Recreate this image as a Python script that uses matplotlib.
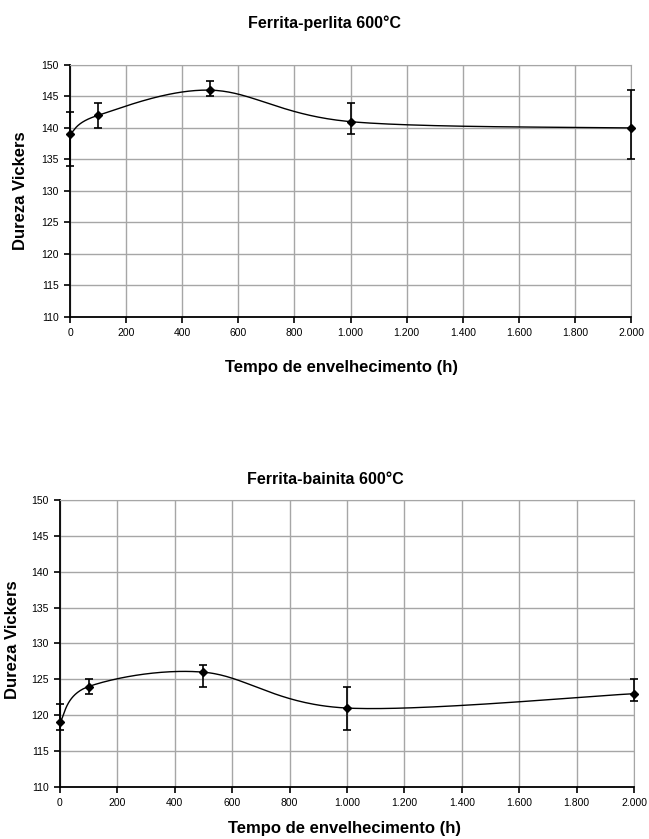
import matplotlib.pyplot as plt
import numpy as np
from matplotlib.ticker import FuncFormatter

plt.rcParams['font.family'] = ['Liberation Sans', 'DejaVu Sans']

# dados
tempo = [0, 100, 500, 1000, 2000]

perlita_hv = [139, 142, 146, 141, 140]
perlita_err_lo = [5, 2, 1, 2, 5]
perlita_err_hi = [3.5, 2, 1.5, 3, 6]

bainita_hv = [119, 124, 126, 121, 123]
bainita_err_lo = [1, 1, 2, 3, 1]
bainita_err_hi = [2.5, 1, 1, 3, 2]

yticks = np.arange(110, 151, 5)
xticks = np.arange(0, 2001, 200)


def smooth(ax, xs, ys, npts=60):
    # curva suavizada tipo Excel (Bezier com tangentes Catmull-Rom), em coordenadas de tela
    pts = ax.transData.transform(np.column_stack([xs, ys]))
    n = len(pts)
    out = []
    for i in range(n - 1):
        p0 = pts[max(i - 1, 0)]
        p1 = pts[i]
        p2 = pts[i + 1]
        p3 = pts[min(i + 2, n - 1)]
        c1 = p1 + (p2 - p0) / 6.0
        c2 = p2 - (p3 - p1) / 6.0
        t = np.linspace(0, 1, npts)[:, None]
        seg = ((1 - t) ** 3) * p1 + 3 * ((1 - t) ** 2) * t * c1 + 3 * (1 - t) * t ** 2 * c2 + t ** 3 * p2
        out.append(seg)
    out = np.vstack(out)
    return ax.transData.inverted().transform(out)


def fmt(v, pos):
    return "{:,.0f}".format(v).replace(",", ".")


def panel(ax, hv, lo, hi, ylab_pos, xlab_pos):
    ax.set_xlim(0, 2000)
    ax.set_ylim(110, 150)
    ax.set_xticks(xticks)
    ax.set_yticks(yticks)
    ax.xaxis.set_major_formatter(FuncFormatter(fmt))
    ax.grid(True, color='#a6a6a6', linewidth=1)
    ax.set_axisbelow(True)
    for s in ['top', 'right']:
        ax.spines[s].set_color('#a6a6a6')
    for s in ['left', 'bottom']:
        ax.spines[s].set_color('black')
        ax.spines[s].set_linewidth(1.3)
    ax.tick_params(direction='out', length=4, width=1.2, labelsize=7.5, pad=4)

    cur = smooth(ax, tempo, hv)
    ax.plot(cur[:, 0], cur[:, 1], color='black', linewidth=1)
    ax.errorbar(tempo, hv, yerr=[lo, hi], fmt='D', color='black', markersize=4,
                ecolor='black', elinewidth=1.2, capsize=3, capthick=1.2, clip_on=False, zorder=5)

    ax.set_ylabel('Dureza Vickers', fontsize=12, fontweight='bold')
    ax.yaxis.set_label_coords(*ylab_pos)
    ax.yaxis.label.set_va('center')
    ax.set_xlabel('Tempo de envelhecimento (h)', fontsize=12, fontweight='bold')
    ax.xaxis.set_label_coords(*xlab_pos)
    ax.xaxis.label.set_va('center')


fig = plt.figure(figsize=(6.49, 8.39), dpi=100)
ax1 = fig.add_axes([0.1079, 0.6222, 0.8644, 0.3004])
ax2 = fig.add_axes([0.0924, 0.0620, 0.8844, 0.3421])

panel(ax1, perlita_hv, perlita_err_lo, perlita_err_hi, (-0.089, 0.5), (0.484, -0.202))
panel(ax2, bainita_hv, bainita_err_lo, bainita_err_hi, (-0.082, 0.512), (0.495, -0.143))

fig.text(324 / 649, 1 - 23 / 839, 'Ferrita-perlita 600°C', fontsize=11.5, fontweight='bold',
         ha='center', va='center')
fig.text(325 / 649, 1 - 480 / 839, 'Ferrita-bainita 600°C', fontsize=11.5, fontweight='bold',
         ha='center', va='center')

fig.savefig('out.png', dpi=100)
